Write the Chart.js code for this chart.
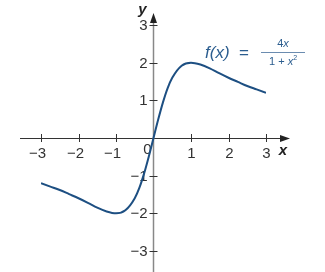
<!DOCTYPE html>
<html>
<head>
<meta charset="utf-8">
<script src="https://cdn.jsdelivr.net/npm/chart.js@4"></script>
<style>
  html, body { margin: 0; padding: 0; background: #fff; }
  #wrap { width: 325px; height: 272px; position: relative; }
</style>
</head>
<body>
<div id="wrap"><canvas id="chart" width="325" height="272"></canvas></div>
<script>
// values
let xs = [-3, -2.75, -2.5, -2.25, -2, -1.75, -1.5, -1.25, -1, -0.75, -0.5, -0.375, -0.25, -0.125, 0,
          0.125, 0.25, 0.375, 0.5, 0.75, 1, 1.25, 1.5, 1.75, 2, 2.25, 2.5, 2.75, 3];
let ys = [-1.2, -1.29, -1.38, -1.49, -1.6, -1.72, -1.85, -1.95, -2, -1.92, -1.6, -1.32, -0.94, -0.49, 0,
          0.49, 0.94, 1.32, 1.6, 1.92, 2, 1.95, 1.85, 1.72, 1.6, 1.49, 1.38, 1.29, 1.2];
let xTicks = [-3, -2, -1, 1, 2, 3];
let yTicks = [-3, -2, -1, 1, 2, 3];

let pts = xs.map((x, i) => ({ x: x, y: ys[i] }));
let minus = v => (v < 0 ? "\u2212" + Math.abs(v) : String(v));
let FONT = "'Liberation Sans', Arial, sans-serif";

// draws a list of [text, font] runs starting at x
function runs(c, list, x, y) {
  list.forEach(r => {
    c.font = r[1];
    c.fillText(r[0], x, y + (r[2] || 0));
    x += c.measureText(r[0]).width;
  });
  return x;
}
function runsWidth(c, list) {
  let w = 0;
  list.forEach(r => { c.font = r[1]; w += c.measureText(r[0]).width; });
  return w;
}

let axesPlugin = {
  id: "axes",
  beforeDatasetsDraw(chart) {
    let c = chart.ctx;
    let sx = chart.scales.x, sy = chart.scales.y;
    let x0 = sx.getPixelForValue(0), y0 = sy.getPixelForValue(0);
    c.save();
    // x axis
    c.strokeStyle = "#333";
    c.lineWidth = 1;
    c.beginPath();
    c.moveTo(20, y0 + 0.5);
    c.lineTo(282, y0 + 0.5);
    c.stroke();
    c.fillStyle = "#222";
    c.beginPath();
    c.moveTo(290, y0 + 0.5);
    c.lineTo(280, y0 - 3);
    c.lineTo(280, y0 + 4);
    c.closePath();
    c.fill();
    // y axis
    c.strokeStyle = "#888";
    c.lineWidth = 1.5;
    c.beginPath();
    c.moveTo(x0, 272);
    c.lineTo(x0, 22);
    c.stroke();
    c.fillStyle = "#222";
    c.beginPath();
    c.moveTo(x0, 13);
    c.lineTo(x0 - 3.5, 23);
    c.lineTo(x0 + 3.5, 23);
    c.closePath();
    c.fill();
    // ticks and labels
    c.strokeStyle = "#333";
    c.lineWidth = 1;
    c.font = "15px " + FONT;
    c.fillStyle = "#333";
    c.textAlign = "center";
    c.textBaseline = "middle";
    xTicks.forEach(v => {
      let px = Math.round(sx.getPixelForValue(v)) + 0.5;
      c.beginPath();
      c.moveTo(px, y0 - 4);
      c.lineTo(px, y0 + 4);
      c.stroke();
      c.fillText(minus(v), px - (v < 0 ? 4 : 0), y0 + 16);
    });
    c.textAlign = "right";
    yTicks.forEach(v => {
      let py = Math.round(sy.getPixelForValue(v)) + 0.5;
      c.beginPath();
      c.moveTo(x0 - 4, py);
      c.lineTo(x0 + 4, py);
      c.stroke();
      c.fillText(minus(v), x0 - 6, py);
    });
    c.fillText("0", x0 - 2, y0 + 12);
    // axis names
    c.font = "italic bold 15px " + FONT;
    c.fillStyle = "#222";
    c.textAlign = "center";
    c.fillText("x", 283, y0 + 13);
    c.fillText("y", x0 - 11, 10);
    c.restore();
  },
  afterDraw(chart) {
    let c = chart.ctx;
    c.save();
    c.fillStyle = "#2b5d8f";
    c.strokeStyle = "#6b8cb0";
    c.textBaseline = "middle";
    c.textAlign = "left";
    runs(c, [["f(x)", "italic 17px " + FONT], ["  =", "17px " + FONT]], 205, 53);
    c.lineWidth = 1;
    c.beginPath();
    c.moveTo(261, 52.5);
    c.lineTo(305, 52.5);
    c.stroke();
    let num = [["4", "11px " + FONT], ["x", "italic 11px " + FONT]];
    runs(c, num, 283 - runsWidth(c, num) / 2, 44);
    let den = [["1 + ", "11px " + FONT], ["x", "italic 11px " + FONT], ["2", "7px " + FONT, -4]];
    runs(c, den, 283 - runsWidth(c, den) / 2, 62);
    c.restore();
  }
};

let ctx = document.getElementById("chart").getContext("2d");
let chart = new Chart(ctx, {
  type: "scatter",
  data: {
    datasets: [{
      data: pts,
      showLine: true,
      borderColor: "#1d4f82",
      borderWidth: 2,
      pointRadius: 0,
      cubicInterpolationMode: "monotone",
      fill: false
    }]
  },
  options: {
    responsive: false,
    animation: false,
    layout: { padding: { left: 41, right: 59, top: 25, bottom: 21 } },
    plugins: { legend: { display: false }, tooltip: { enabled: false } },
    scales: {
      x: { type: "linear", min: -3, max: 3, display: false },
      y: { type: "linear", min: -3, max: 3, display: false }
    }
  },
  plugins: [axesPlugin]
});
</script>
</body>
</html>
